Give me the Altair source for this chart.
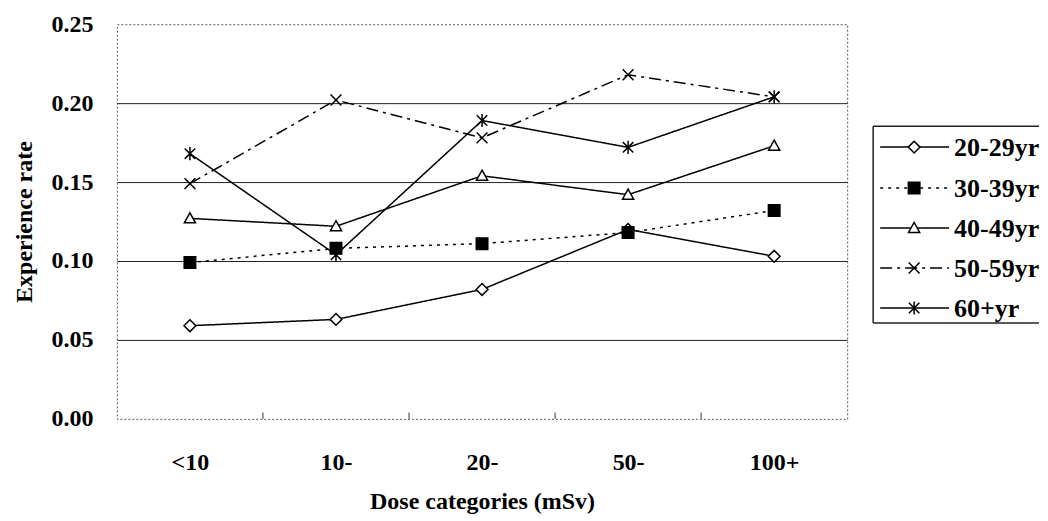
import altair as alt
import pandas as pd

categories = ["<10", "10-", "20-", "50-", "100+"]
series = ["20-29yr", "30-39yr", "40-49yr", "50-59yr", "60+yr"]
v20_29 = [0.059, 0.063, 0.082, 0.120, 0.103]
v30_39 = [0.099, 0.108, 0.111, 0.118, 0.132]
v40_49 = [0.127, 0.122, 0.154, 0.142, 0.173]
v50_59 = [0.149, 0.202, 0.178, 0.218, 0.204]
v60p = [0.168, 0.104, 0.189, 0.172, 0.204]
y_ticks = [0.0, 0.05, 0.10, 0.15, 0.20, 0.25]

rows = []
for s, vals in zip(series, [v20_29, v30_39, v40_49, v50_59, v60p]):
    for c, v in zip(categories, vals):
        rows.append({"series": s, "dose": c, "rate": v})
df = pd.DataFrame(rows)

FONT = "Liberation Serif"
dash_range = [[1, 0], [3, 5], [1, 0], [12, 5, 3, 5], [1, 0]]
shape_range = [
    "M0,-1L1,0L0,1L-1,0Z",
    "M-1,-1L1,-1L1,1L-1,1Z",
    "M0,-1L1,0.8L-1,0.8Z",
    "M-1,-1L1,1M1,-1L-1,1",
    "M-1,-1L1,1M1,-1L-1,1M0,-1.25L0,1.25",
]
fill_range = ["white", "black", "white", "white", "white"]
size_range = [140, 110, 160, 180, 180]

dash_scale = alt.Scale(domain=series, range=dash_range)
shape_scale = alt.Scale(domain=series, range=shape_range)
fill_scale = alt.Scale(domain=series, range=fill_range)
size_scale = alt.Scale(domain=series, range=size_range)

xenc = alt.X(
    "dose:N",
    sort=categories,
    scale=alt.Scale(domain=categories, type="point", padding=0.5),
    axis=alt.Axis(
        title="Dose categories (mSv)",
        labelAngle=0,
        domain=False,
        ticks=False,
        labelFont=FONT,
        labelFontWeight="bold",
        labelFontSize=24,
        labelColor="black",
        labelPadding=32,
        titleFont=FONT,
        titleFontWeight="bold",
        titleFontSize=24,
        titleColor="black",
        titlePadding=15,
    ),
)
yenc = alt.Y(
    "rate:Q",
    scale=alt.Scale(domain=[0, 0.25], nice=False, zero=True),
    axis=alt.Axis(
        values=y_ticks,
        format=".2f",
        grid=True,
        gridColor="#222",
        gridWidth=1,
        gridOpacity=alt.condition(
            "datum.value < 0.001 || datum.value > 0.249", alt.value(0), alt.value(1)
        ),
        domain=False,
        ticks=False,
        labelFont=FONT,
        labelFontWeight="bold",
        labelFontSize=24,
        labelColor="black",
        labelPadding=24,
        title="Experience rate",
        titleFont=FONT,
        titleFontWeight="bold",
        titleFontSize=24,
        titleColor="black",
        titlePadding=14,
    ),
)

base = alt.Chart(df)
lines = base.mark_line(color="black", strokeWidth=1.5).encode(
    x=xenc,
    y=yenc,
    strokeDash=alt.StrokeDash("series:N", scale=dash_scale, legend=None),
    detail="series:N",
)
points = base.mark_point(filled=True, stroke="black", strokeWidth=1.5, opacity=1).encode(
    x=alt.X("dose:N", sort=categories),
    y="rate:Q",
    shape=alt.Shape("series:N", scale=shape_scale, legend=None),
    fill=alt.Fill("series:N", scale=fill_scale, legend=None),
    size=alt.Size("series:N", scale=size_scale, legend=None),
)

# small tick marks at the category boundaries on the bottom edge
tick_pos = [1, 2, 3, 4]
ticks = alt.Chart(pd.DataFrame({"b": tick_pos})).mark_rule(color="#333", strokeWidth=1).encode(
    x=alt.X("b:Q", scale=alt.Scale(domain=[0, 5]), axis=None),
    y=alt.datum(0),
    y2=alt.datum(0.004),
)

main = (
    alt.layer(alt.layer(lines, points), ticks)
    .resolve_scale(x="independent")
    .properties(
        width=731,
        height=395,
        view=alt.ViewBackground(stroke="#555", strokeDash=[2, 2], strokeWidth=1),
    )
)

# custom legend panel (its right border runs off the picture, as in the original)
LW, LH = 166, 395
BOX_TOP, BOX_BOTTOM = 102, 299
leg_rows = [123, 164, 204, 244, 284]
leg_df = pd.DataFrame({"series": series, "ly": leg_rows})
lx = alt.Scale(domain=[0, LW], nice=False, zero=False)
ly = alt.Scale(domain=[0, LH], nice=False, zero=False, reverse=True)

box_fill = alt.Chart(pd.DataFrame({"x": [0], "x2": [LW], "y": [BOX_TOP], "y2": [BOX_BOTTOM]})).mark_rect(
    fill="white"
).encode(
    x=alt.X("x:Q", scale=lx, axis=None),
    x2="x2:Q",
    y=alt.Y("y:Q", scale=ly, axis=None),
    y2="y2:Q",
)
edges = pd.DataFrame(
    {"x": [0, 0, 0], "x2": [LW, LW, 0], "y": [BOX_TOP, BOX_BOTTOM, BOX_TOP], "y2": [BOX_TOP, BOX_BOTTOM, BOX_BOTTOM]}
)
box_edges = alt.Chart(edges).mark_rule(color="#222", strokeWidth=1.5).encode(
    x=alt.X("x:Q", scale=lx, axis=None),
    x2="x2:Q",
    y=alt.Y("y:Q", scale=ly, axis=None),
    y2="y2:Q",
)
leg_lines = alt.Chart(leg_df).mark_rule(color="black", strokeWidth=1.5).encode(
    x=alt.datum(7, scale=lx),
    x2=alt.datum(76),
    y=alt.Y("ly:Q", scale=ly, axis=None),
    strokeDash=alt.StrokeDash("series:N", scale=dash_scale, legend=None),
)
leg_pts = alt.Chart(leg_df).mark_point(filled=True, stroke="black", strokeWidth=1.5, opacity=1).encode(
    x=alt.datum(41, scale=lx),
    y=alt.Y("ly:Q", scale=ly, axis=None),
    shape=alt.Shape("series:N", scale=shape_scale, legend=None),
    fill=alt.Fill("series:N", scale=fill_scale, legend=None),
    size=alt.Size("series:N", scale=size_scale, legend=None),
)
leg_text = alt.Chart(leg_df).mark_text(
    align="left", baseline="middle", font=FONT, fontWeight="bold", fontSize=26, color="black", dy=1
).encode(
    x=alt.datum(81, scale=lx),
    y=alt.Y("ly:Q", scale=ly, axis=None),
    text="series:N",
)
legend = alt.layer(box_fill, box_edges, leg_lines, leg_pts, leg_text).properties(
    width=LW, height=LH, view=alt.ViewBackground(stroke=None)
)

chart = (
    alt.hconcat(main, legend, spacing=26, bounds="flush")
    .properties(padding={"left": 4, "top": 3, "right": 0, "bottom": 0}, background="white")
    .configure_view(strokeWidth=1)
)

chart.save("out.html", embed_options={"renderer": "svg", "actions": False})
